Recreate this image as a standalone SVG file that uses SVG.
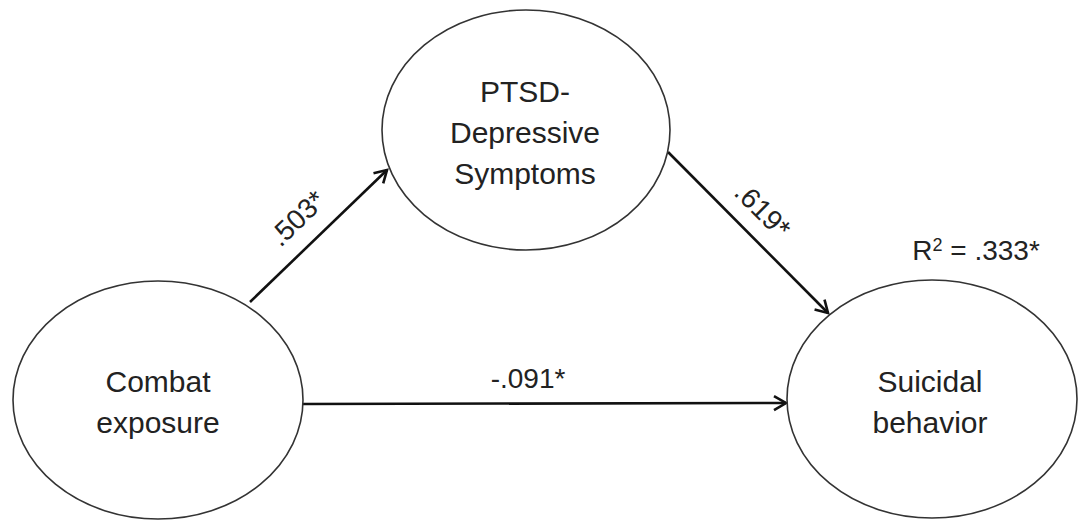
<svg xmlns="http://www.w3.org/2000/svg" width="1078" height="523" viewBox="0 0 1078 523">
<style>
.node{fill:#fff;stroke:#333;stroke-width:1.6}
.lbl{font-family:"Liberation Sans",Arial,sans-serif;font-size:30px;fill:#222;text-anchor:middle}
.edge{stroke:#111;stroke-width:2.6;fill:none;marker-end:url(#arr)}
.el{font-family:"Liberation Sans",Arial,sans-serif;font-size:28px;fill:#222;text-anchor:middle}
</style>
<defs>
<marker id="arr" markerUnits="userSpaceOnUse" markerWidth="20" markerHeight="20" refX="16" refY="10" orient="auto">
<path d="M4,3 L16,10 L4,17" fill="none" stroke="#111" stroke-width="2.6" stroke-linejoin="miter"/>
</marker>
</defs>
<rect width="1078" height="523" fill="#fff"/>
<g id="connectors">
<line class="edge" x1="250" y1="302" x2="387" y2="170"/>
<line class="edge" x1="668" y1="152" x2="828" y2="313"/>
<line class="edge" x1="303" y1="404" x2="786" y2="403"/>
<text class="el" transform="translate(297,218) rotate(-44)" y="10">.503*</text>
<text class="el" transform="translate(763,210) rotate(45)" y="10">.619*</text>
<text class="el" x="528" y="388">-.091*</text>
</g>
<g id="combat">
<ellipse class="node" cx="158" cy="400" rx="145" ry="119"/>
<text class="lbl" x="158" y="392">Combat</text>
<text class="lbl" x="158" y="433">exposure</text>
</g>
<g id="ptsd">
<ellipse class="node" cx="526" cy="130" rx="144" ry="120"/>
<text class="lbl" x="525" y="102">PTSD-</text>
<text class="lbl" x="525" y="143">Depressive</text>
<text class="lbl" x="525" y="184">Symptoms</text>
</g>
<g id="suicidal">
<ellipse class="node" cx="932" cy="399" rx="145" ry="119"/>
<text class="lbl" x="930" y="392">Suicidal</text>
<text class="lbl" x="930" y="433">behavior</text>
<text class="el" x="976" y="260">R<tspan font-size="18" dy="-9">2</tspan><tspan dy="9"> = .333*</tspan></text>
</g>
</svg>
